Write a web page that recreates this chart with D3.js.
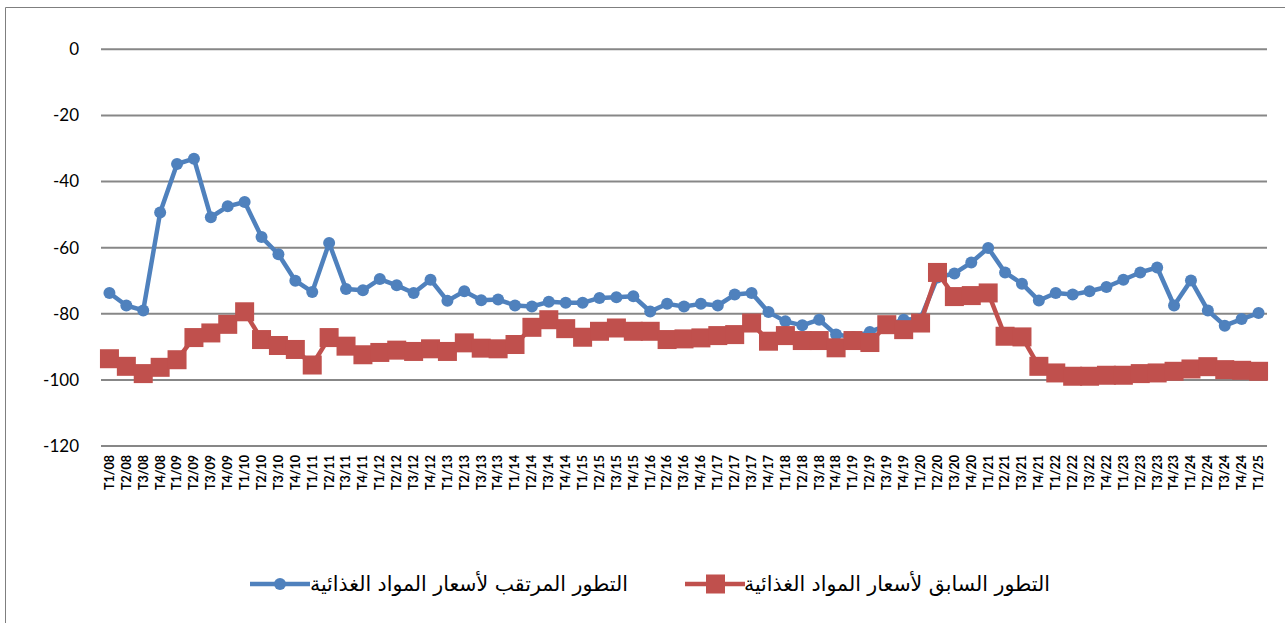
<!DOCTYPE html>
<html>
<head>
<meta charset="utf-8">
<script src="https://cdn.jsdelivr.net/npm/d3@7"></script>
<style>
  body { margin: 0; background: #fff; }
  svg { display: block; }
</style>
</head>
<body>
<div id="chart"></div>
<script>
// quarters (T = trimestre)
const categories = [
  "T1/08","T2/08","T3/08","T4/08","T1/09","T2/09","T3/09","T4/09",
  "T1/10","T2/10","T3/10","T4/10","T1/11","T2/11","T3/11","T4/11",
  "T1/12","T2/12","T3/12","T4/12","T1/13","T2/13","T3/13","T4/13",
  "T1/14","T2/14","T3/14","T4/14","T1/15","T2/15","T3/15","T4/15",
  "T1/16","T2/16","T3/16","T4/16","T1/17","T2/17","T3/17","T4/17",
  "T1/18","T2/18","T3/18","T4/18","T1/19","T2/19","T3/19","T4/19",
  "T1/20","T2/20","T3/20","T4/20","T1/21","T2/21","T3/21","T4/21",
  "T1/22","T2/22","T3/22","T4/22","T1/23","T2/23","T3/23","T4/23",
  "T1/24","T2/24","T3/24","T4/24","T1/25"
];

// expected evolution (blue)
const expected = [
  -73.7, -77.5, -79.0, -49.4, -34.7, -33.1, -50.8, -47.5,
  -46.2, -56.8, -62.0, -70.0, -73.4, -58.6, -72.5, -72.9,
  -69.5, -71.4, -73.7, -69.7, -76.1, -73.2, -75.9, -75.7,
  -77.5, -77.8, -76.4, -76.7, -76.7, -75.2, -75.0, -74.7,
  -79.3, -77.0, -77.8, -77.0, -77.5, -74.2, -73.7, -79.5,
  -82.3, -83.5, -81.8, -86.3, -87.0, -85.5, -83.5, -81.8,
  -81.5, -69.0, -67.8, -64.5, -60.1, -67.5, -70.9, -76.0,
  -73.7, -74.2, -73.2, -71.9, -69.7, -67.5, -66.0, -77.5,
  -69.9, -79.0, -83.6, -81.6, -79.8
];

// past evolution (red)
const previous = [
  -93.6, -95.9, -98.1, -96.2, -93.9, -87.2, -85.8, -83.2,
  -79.4, -87.8, -89.6, -90.8, -95.5, -87.2, -89.8, -92.4,
  -91.7, -91.0, -91.4, -90.6, -91.4, -88.8, -90.4, -90.6,
  -89.3, -84.1, -81.8, -84.5, -87.1, -85.3, -84.3, -85.3,
  -85.3, -87.8, -87.6, -87.3, -86.6, -86.3, -82.8, -88.3,
  -86.6, -88.1, -88.1, -90.3, -88.1, -88.7, -83.3, -84.8,
  -82.8, -67.5, -74.8, -74.5, -73.7, -86.8, -87.0, -95.9,
  -97.9, -98.9, -98.9, -98.6, -98.6, -98.1, -97.9, -97.4,
  -96.7, -96.0, -96.9, -97.1, -97.4
];

const yTicks = [0, -20, -40, -60, -80, -100, -120];

const seriesNames = [
  "التطور المرتقب لأسعار المواد الغذائية",
  "التطور السابق لأسعار المواد الغذائية"
];

const blue = "#4F81BD";
const red = "#C0504D";

const svgWidth = 1285;
const svgHeight = 623;

const svg = d3.select("#chart")
  .append("svg")
  .attr("width", svgWidth)
  .attr("height", svgHeight)
  .style("font-family", "Lato, 'DejaVu Sans', sans-serif");

// outer frame (only top/left visible in the screenshot)
svg.append("path")
  .attr("d", "M5.5,623 L5.5,7.5 L1285,7.5")
  .attr("fill", "none")
  .attr("stroke", "#7f7f7f")
  .attr("stroke-width", 1);

const plot = { left: 101, right: 1267, top: 49.3, bottom: 446 };

const x = d3.scaleBand(categories, [plot.left, plot.right]);
const y = d3.scaleLinear([-120, 0], [plot.bottom, plot.top]);
const cx = d => x(d) + x.bandwidth() / 2;

// gridlines
svg.append("g")
  .selectAll("line")
  .data(yTicks)
  .join("line")
  .attr("x1", plot.left)
  .attr("x2", plot.right)
  .attr("y1", d => y(d))
  .attr("y2", d => y(d))
  .attr("stroke", "#878787")
  .attr("stroke-width", 2);

// y axis labels (plain hyphen, like the original)
const yAxis = d3.axisLeft(y).tickValues(yTicks).tickSize(0).tickPadding(0)
  .tickFormat(d => String(d));
svg.append("g")
  .attr("transform", `translate(79,0)`)
  .call(yAxis)
  .call(g => g.select(".domain").remove())
  .selectAll("text")
  .style("font-size", "17px")
  .style("font-family", "Lato, sans-serif")
  .attr("fill", "#000");

// x axis labels, rotated
const xAxis = d3.axisBottom(x).tickSize(0).tickPadding(0);
svg.append("g")
  .attr("transform", `translate(0,${plot.bottom})`)
  .call(xAxis)
  .call(g => g.select(".domain").remove())
  .selectAll("text")
  .attr("transform", "rotate(-90)")
  .attr("text-anchor", "end")
  .attr("x", -9)
  .attr("y", 0)
  .attr("dy", "0.35em")
  .style("font-size", "12.5px")
  .style("font-weight", "bold")
  .style("font-family", "Lato, sans-serif")
  .attr("fill", "#000");

const line = d3.line()
  .x((d, i) => cx(categories[i]))
  .y(d => y(d));

// blue series
svg.append("path")
  .datum(expected)
  .attr("fill", "none")
  .attr("stroke", blue)
  .attr("stroke-width", 4.5)
  .attr("stroke-linejoin", "round")
  .attr("d", line);

svg.append("g")
  .selectAll("circle")
  .data(expected)
  .join("circle")
  .attr("cx", (d, i) => cx(categories[i]))
  .attr("cy", d => y(d))
  .attr("r", 6)
  .attr("fill", blue);

// red series
const sq = 19;
svg.append("path")
  .datum(previous)
  .attr("fill", "none")
  .attr("stroke", red)
  .attr("stroke-width", 4.5)
  .attr("stroke-linejoin", "round")
  .attr("d", line);

svg.append("g")
  .selectAll("rect")
  .data(previous)
  .join("rect")
  .attr("x", (d, i) => cx(categories[i]) - sq / 2)
  .attr("y", d => y(d) - sq / 2)
  .attr("width", sq)
  .attr("height", sq)
  .attr("fill", red);

// legend
const legY = 584;
const leg = svg.append("g");

leg.append("line")
  .attr("x1", 250).attr("x2", 310)
  .attr("y1", legY).attr("y2", legY)
  .attr("stroke", blue).attr("stroke-width", 4.5);
leg.append("circle")
  .attr("cx", 280).attr("cy", legY).attr("r", 6)
  .attr("fill", blue);
leg.append("text")
  .attr("x", 628).attr("y", legY)
  .attr("dy", "0.35em")
  .attr("text-anchor", "end")
  .style("font-family", "'DejaVu Sans', sans-serif")
  .style("font-size", "20.5px")
  .text(seriesNames[0]);

leg.append("line")
  .attr("x1", 685).attr("x2", 745)
  .attr("y1", legY).attr("y2", legY)
  .attr("stroke", red).attr("stroke-width", 4.5);
leg.append("rect")
  .attr("x", 706).attr("y", legY - 9.5)
  .attr("width", 19).attr("height", 19)
  .attr("fill", red);
leg.append("text")
  .attr("x", 1050).attr("y", legY)
  .attr("dy", "0.35em")
  .attr("text-anchor", "end")
  .style("font-family", "'DejaVu Sans', sans-serif")
  .style("font-size", "20.5px")
  .text(seriesNames[1]);
</script>
</body>
</html>
